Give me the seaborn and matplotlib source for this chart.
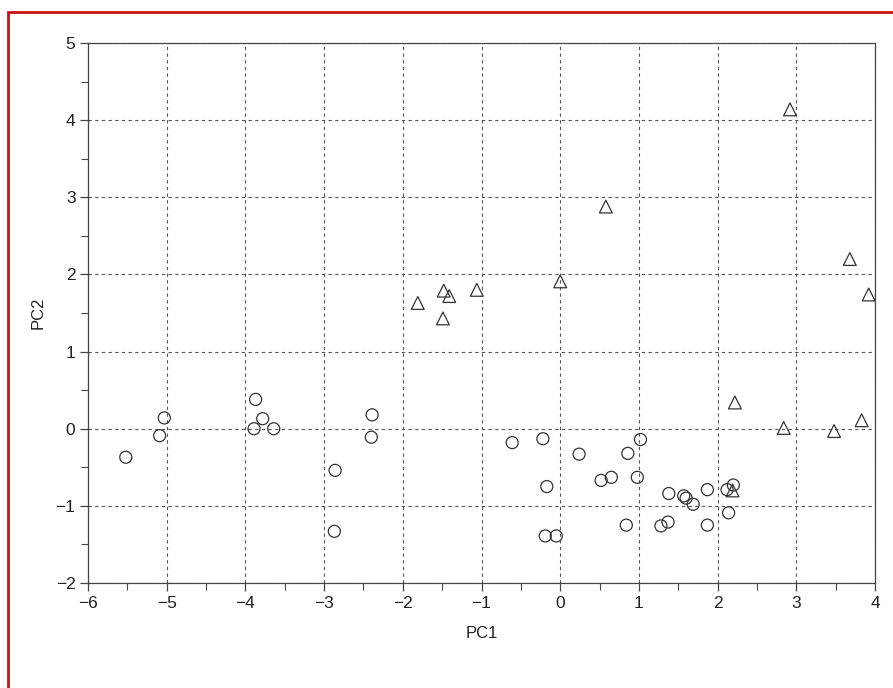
import matplotlib
matplotlib.use("Agg")
import matplotlib.pyplot as plt
from matplotlib.patches import Rectangle
from matplotlib.ticker import MultipleLocator
import seaborn as sns
import pandas as pd

# Principal component scores, group A (circles)
pc1_a = [-5.52, -5.09, -5.03, -3.87, -3.89, -3.78, -3.64, -2.86, -2.87, -2.39,
         -2.40, -0.61, -0.22, -0.17, -0.19, -0.05, 0.24, 0.52, 0.65, 0.86,
         1.02, 0.98, 0.84, 1.38, 1.57, 1.60, 1.69, 1.28, 1.37, 1.87,
         1.87, 2.12, 2.20, 2.14]
pc2_a = [-0.37, -0.09, 0.14, 0.38, 0.00, 0.13, 0.00, -0.54, -1.33, 0.18,
         -0.11, -0.18, -0.13, -0.75, -1.39, -1.39, -0.33, -0.67, -0.63, -0.32,
         -0.14, -0.63, -1.25, -0.84, -0.87, -0.90, -0.98, -1.26, -1.21, -0.79,
         -1.25, -0.79, -0.73, -1.09]

# Principal component scores, group B (triangles)
pc1_b = [2.22, 2.84, 3.48, 3.83, 2.19, 0.58, 3.68, 3.92, 0.00, -1.06,
         -1.48, -1.41, -1.81, -1.49, 2.92]
pc2_b = [0.34, 0.01, -0.03, 0.11, -0.80, 2.88, 2.20, 1.74, 1.91, 1.80,
         1.79, 1.72, 1.63, 1.43, 4.14]

x_ticks = [-6, -5, -4, -3, -2, -1, 0, 1, 2, 3, 4]
y_ticks = [-2, -1, 0, 1, 2, 3, 4, 5]

df_a = pd.DataFrame({"PC1": pc1_a, "PC2": pc2_a})
df_b = pd.DataFrame({"PC1": pc1_b, "PC2": pc2_b})

sns.set_style("white")
plt.rcParams["font.family"] = ["Liberation Sans", "DejaVu Sans"]

fig = plt.figure(figsize=(8.93, 6.88), dpi=100)
ax = fig.add_axes([88 / 893, 105 / 688, 787 / 893, 540 / 688])

edge = "#333333"
sns.scatterplot(data=df_a, x="PC1", y="PC2", ax=ax, marker="o", s=75,
                linewidth=0.9, zorder=3)
sns.scatterplot(data=df_b, x="PC1", y="PC2", ax=ax, marker="^", s=85,
                linewidth=0.9, zorder=3)
for coll in ax.collections:
    coll.set_facecolor("none")
    coll.set_edgecolor(edge)

ax.set_xlim(-6, 4)
ax.set_ylim(-2, 5)
ax.set_xticks(x_ticks)
ax.set_yticks(y_ticks)
ax.set_xticklabels([f"{t}".replace("-", "\u2212") for t in x_ticks])
ax.set_yticklabels([f"{t}".replace("-", "\u2212") for t in y_ticks])
ax.xaxis.set_minor_locator(MultipleLocator(0.5))
ax.yaxis.set_minor_locator(MultipleLocator(0.5))

ax.grid(True, which="major", color="#555555", linestyle=(0, (3, 3)),
        linewidth=0.8)
ax.set_axisbelow(True)

for side in ["left", "bottom", "top", "right"]:
    ax.spines[side].set_visible(True)
    ax.spines[side].set_color("#444444")
    ax.spines[side].set_linewidth(0.9)

ax.tick_params(axis="both", which="major", direction="out", length=6,
               width=0.9, color="#444444", labelsize=12.5, pad=3,
               labelcolor="#222222",
               bottom=True, left=True, top=False, right=False)
ax.tick_params(axis="both", which="minor", direction="out", length=5,
               width=0.8, color="#444444", bottom=True, left=True,
               top=False, right=False)

ax.set_xlabel("PC1", fontsize=12, labelpad=11, color="#222222")
ax.set_ylabel("PC2", fontsize=12, labelpad=7, color="#222222")

fig.add_artist(Rectangle((8 / 893, -0.02), 1.05, (688 - 12) / 688 + 0.02,
                         transform=fig.transFigure, fill=False,
                         edgecolor="#c8101a", linewidth=2.0))

fig.savefig("out.png", dpi=100, facecolor="white")
